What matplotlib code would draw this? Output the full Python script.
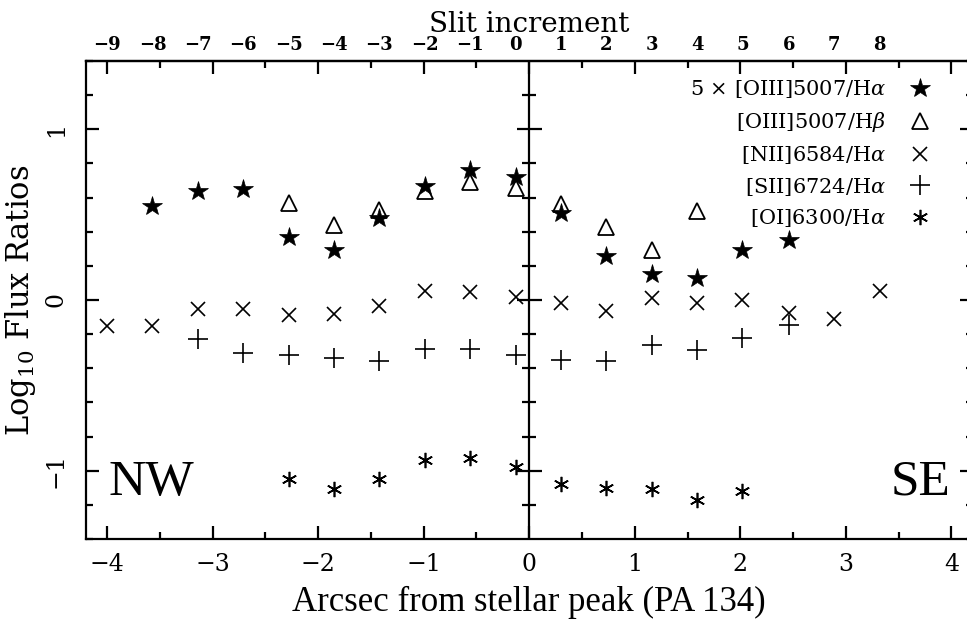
import numpy as np
import matplotlib
matplotlib.use("Agg")
import matplotlib.pyplot as plt
from matplotlib.ticker import MultipleLocator

plt.rcParams['font.family'] = ['DejaVu Serif']
plt.rcParams['mathtext.fontset'] = 'dejavuserif'

nan = np.nan

# slit increments along the slit and their offsets from the stellar peak (arcsec)
slit = [-9, -8, -7, -6, -5, -4, -3, -2, -1, 0, 1, 2, 3, 4, 5, 6, 7, 8]
offset = [-4.00, -3.57, -3.14, -2.71, -2.28, -1.85, -1.42, -0.99, -0.56,
          -0.13, 0.30, 0.73, 1.16, 1.59, 2.02, 2.46, 2.89, 3.32]

# log10 line ratios at each slit increment
oiii_ha_x5 = [nan, 0.55, 0.64, 0.65, 0.37, 0.29, 0.48, 0.67, 0.76,
              0.72, 0.51, 0.26, 0.15, 0.13, 0.29, 0.35, nan, nan]
oiii_hb = [nan, nan, nan, nan, 0.57, 0.44, 0.53, 0.64, 0.69,
           0.655, 0.56, 0.43, 0.29, 0.52, nan, nan, nan, nan]
nii_ha = [-0.15, -0.15, -0.05, -0.05, -0.09, -0.085, -0.035, 0.05, 0.045,
          0.02, -0.02, -0.065, 0.01, -0.02, 0.0, -0.075, -0.11, 0.055]
sii_ha = [nan, nan, -0.23, -0.31, -0.325, -0.34, -0.355, -0.285, -0.29,
          -0.325, -0.35, -0.36, -0.265, -0.295, -0.22, -0.145, nan, nan]
oi_ha = [nan, nan, nan, nan, -1.05, -1.11, -1.05, -0.94, -0.925,
         -0.98, -1.08, -1.10, -1.11, -1.17, -1.12, nan, nan, nan]

labels = [r'5 $\times$ [OIII]5007/H$\alpha$', r'[OIII]5007/H$\beta$',
          r'[NII]6584/H$\alpha$', r'[SII]6724/H$\alpha$', r'[OI]6300/H$\alpha$']

fig = plt.figure(figsize=(9.67, 6.27), dpi=100)
ax = fig.add_axes([0.0889, 0.1404, 0.9168, 0.7623])

lw = 1.6
styles = [
    dict(marker='*', ms=15, mfc='k', mec='k', mew=0.5),
    dict(marker='^', ms=11, mfc='none', mec='k', mew=1.3),
    dict(marker='x', ms=10, mfc='none', mec='k', mew=1.2),
    dict(marker='+', ms=14, mfc='none', mec='k', mew=1.2),
    dict(marker=(6, 2, 0), ms=11, mfc='none', mec='k', mew=1.2),
]
series = [oiii_ha_x5, oiii_hb, nii_ha, sii_ha, oi_ha]
handles = []
for vals, st, lab in zip(series, styles, labels):
    h, = ax.plot(offset, vals, ls='none', label=lab, **st)
    handles.append(h)

ax.set_xlim(-4.2, 4.2)
ax.set_ylim(-1.4, 1.4)

# centre line separating the NW and SE sides, ticked on both sides
ax.axvline(0, color='k', lw=lw)
ymaj = [-1, 0, 1]
ymin = [v for v in np.round(np.arange(-1.2, 1.21, 0.2), 2) if v not in ymaj]
ax.plot(np.zeros(len(ymaj)), ymaj, ls='none', marker='_', ms=18, mew=lw, color='k')
ax.plot(np.zeros(len(ymin)), ymin, ls='none', marker='_', ms=9.5, mew=lw, color='k')

for s in ax.spines.values():
    s.set_linewidth(lw)

ax.xaxis.set_major_locator(MultipleLocator(1))
ax.xaxis.set_minor_locator(MultipleLocator(0.5))
ax.yaxis.set_major_locator(MultipleLocator(1))
ax.yaxis.set_minor_locator(MultipleLocator(0.2))
ax.tick_params(which='both', direction='in', top=True, right=True, width=lw)
ax.tick_params(which='major', length=9.5)
ax.tick_params(which='minor', length=5)
ax.tick_params(axis='x', which='major', labelsize=17, pad=10)
ax.tick_params(axis='y', which='major', labelsize=17, pad=13, labelrotation=90)
for t in ax.get_yticklabels():
    t.set_va('center')

sec = ax.secondary_xaxis('top')
sec.set_xticks(offset, labels=[str(s) if s >= 0 else '\u2212' + str(-s) for s in slit])
sec.tick_params(length=0, labelsize=13, pad=5)
sec.spines['top'].set_linewidth(lw)
for t in sec.get_xticklabels():
    t.set_fontweight('bold')
sec.set_xlabel('Slit increment', fontsize=20, labelpad=3)

ax.set_xlabel('Arcsec from stellar peak (PA 134)', fontsize=25, labelpad=7,
              family='Liberation Serif')
ax.set_ylabel(r'Log$_{10}$ Flux Ratios', fontsize=22, labelpad=5)

ax.text(0.025, 0.092, 'NW', transform=ax.transAxes, fontsize=37,
        family='Liberation Serif', ha='left', va='baseline')
ax.text(0.975, 0.092, 'SE', transform=ax.transAxes, fontsize=37,
        family='Liberation Serif', ha='right', va='baseline')

ax.legend(handles=handles, loc='upper right', bbox_to_anchor=(0.968, 0.99),
          frameon=False, markerfirst=False, fontsize=15, handlelength=1.1,
          handletextpad=1.1, labelspacing=0.47, borderaxespad=0.2)

fig.savefig('out.png', dpi=100)
